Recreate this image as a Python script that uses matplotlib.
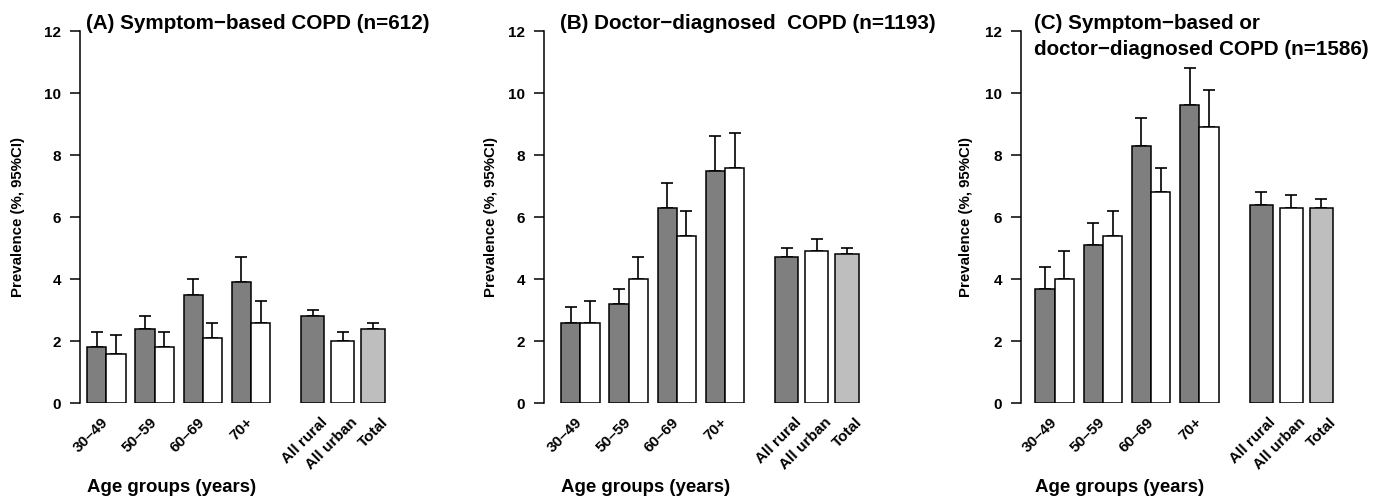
import numpy as np
import matplotlib
matplotlib.use("Agg")
from matplotlib import pyplot as plt

plt.rcParams['font.family'] = ['Liberation Sans', 'DejaVu Sans']
plt.rcParams['font.weight'] = 'bold'

age_groups = ['30–49', '50–59', '60–69', '70+']
overall_labels = ['All rural', 'All urban', 'Total']

titles = ['(A) Symptom−based COPD (n=612)',
          '(B) Doctor−diagnosed  COPD (n=1193)',
          '(C) Symptom−based or\ndoctor−diagnosed COPD (n=1586)']

# rural / urban prevalence by age group, and upper 95% CI
rural = [[1.8, 2.4, 3.5, 3.9], [2.6, 3.2, 6.3, 7.5], [3.7, 5.1, 8.3, 9.6]]
rural_hi = [[2.3, 2.8, 4.0, 4.7], [3.1, 3.7, 7.1, 8.6], [4.4, 5.8, 9.2, 10.8]]
urban = [[1.6, 1.8, 2.1, 2.6], [2.6, 4.0, 5.4, 7.6], [4.0, 5.4, 6.8, 8.9]]
urban_hi = [[2.2, 2.3, 2.6, 3.3], [3.3, 4.7, 6.2, 8.7], [4.9, 6.2, 7.6, 10.1]]

# all rural, all urban, total
overall = [[2.8, 2.0, 2.4], [4.7, 4.9, 4.8], [6.4, 6.3, 6.3]]
overall_hi = [[3.0, 2.3, 2.6], [5.0, 5.3, 5.0], [6.8, 6.7, 6.6]]

W, H = 1386, 500
fig = plt.figure(figsize=(W / 100, H / 100), dpi=100)

u = 19.3                      # pixels per bar width
axis_px = [80, 543.7, 1020.7]  # y-axis x-position
first_px = [87, 561, 1035.3]   # left edge of first bar
ylab_px = [18, 491, 966]
y0_px, y12_px = 403.3, 31
ax_w = 330

dark = '#7f7f7f'
light = '#bebebe'
ekw = dict(ecolor='black', elinewidth=1.2, capthick=1.2)

for i in range(3):
    off = (first_px[i] - axis_px[i]) / u
    ax = fig.add_axes([axis_px[i] / W, (H - y0_px) / H, ax_w / W, (y0_px - y12_px) / H])

    left = np.arange(4) * 2.5
    xr = left + 0.5
    xu = left + 1.5
    ax.bar(xr, rural[i], width=1, color=dark, edgecolor='black', linewidth=1.1, zorder=2)
    ax.bar(xu, urban[i], width=1, color='white', edgecolor='black', linewidth=1.1, zorder=2)
    r = np.array(rural[i]); rh = np.array(rural_hi[i])
    w = np.array(urban[i]); wh = np.array(urban_hi[i])
    ax.errorbar(xr, rh, yerr=[rh - r, np.zeros(4)], fmt='none', capsize=4.3, zorder=1, **ekw)
    ax.errorbar(xu, wh, yerr=[wh - w, np.zeros(4)], fmt='none', capsize=4.3, zorder=1, **ekw)

    xo = np.array([11.1, 12.66, 14.22]) + 0.6
    o = np.array(overall[i]); oh = np.array(overall_hi[i])
    ax.bar(xo, o, width=1.2, color=[dark, 'white', light], edgecolor='black', linewidth=1.1, zorder=2)
    ax.errorbar(xo, oh, yerr=[oh - o, np.zeros(3)], fmt='none', capsize=4.3, zorder=1, **ekw)

    ax.set_xlim(-off, -off + ax_w / u)
    ax.set_ylim(0, 12)
    for s in ['top', 'right', 'bottom']:
        ax.spines[s].set_visible(False)
    ax.spines['left'].set_linewidth(1.1)
    ax.set_yticks([0, 2, 4, 6, 8, 10, 12])
    ax.tick_params(axis='y', length=7, width=1.1, pad=6.5, labelsize=11)

    ticks = list(left + 1.0) + list(xo + 0.65)
    ax.set_xticks(ticks)
    ax.set_xticklabels(age_groups + overall_labels, rotation=45, ha='right',
                       va='center', rotation_mode='anchor', fontsize=11)
    ax.tick_params(axis='x', length=0, pad=12)

    fig.text(first_px[i] / W, 1 - 492 / H, 'Age groups (years)', fontsize=13.4,
             ha='left', va='baseline')
    fig.text(ylab_px[i] / W, 1 - 217 / H, 'Prevalence (%, 95%CI)', fontsize=10.8,
             rotation=90, ha='center', va='center')
    fig.text((first_px[i] - 1) / W, 1 - 29 / H, titles[i].split('\n')[0], fontsize=14.9,
             ha='left', va='baseline')
    if '\n' in titles[i]:
        fig.text((first_px[i] - 1) / W, 1 - 55 / H, titles[i].split('\n')[1], fontsize=14.9,
                 ha='left', va='baseline')

plt.savefig('out.png', dpi=100)
